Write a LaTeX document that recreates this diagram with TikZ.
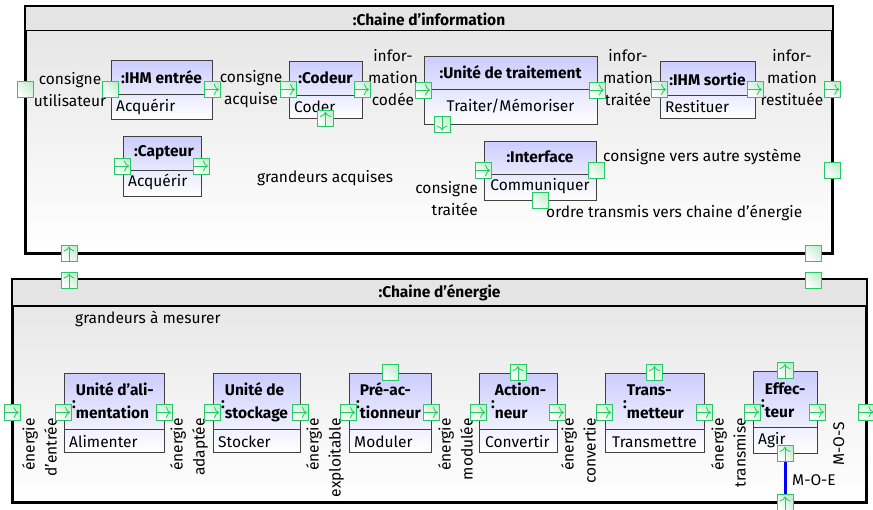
\documentclass[tikz,border=0pt]{standalone}
\usepackage{fontspec}
\setmainfont{Fira Sans}
\usepackage{tikz}
\usetikzlibrary{arrows.meta}
\definecolor{portgreen}{RGB}{40,200,100}
\definecolor{portfill}{RGB}{196,238,208}
\definecolor{partfill}{RGB}{204,204,255}
\definecolor{framegray}{RGB}{228,228,228}
\tikzstyle{frame} = [rectangle, inner sep=0pt, draw=black, line width=1.8pt, top color=framegray, bottom color=white]
\tikzstyle{part} = [rectangle, inner sep=0pt, draw=black!75, line width=0.8pt, top color=partfill, bottom color=white]
\tikzstyle{partname} = [inner sep=0pt, font=\fontsize{15.5}{23}\selectfont\bfseries]
\tikzstyle{lbl} = [inner sep=0pt, align=center]
\tikzstyle{vlbl} = [inner sep=0pt, align=right, rotate=90, anchor=north east]
\tikzstyle{port} = [rectangle, minimum size=16pt, inner sep=0pt, draw=portgreen, line width=1pt, left color=white, right color=portfill, shading angle=135]
\tikzstyle{flowright} = [port, path picture={\draw[portgreen, line width=0.8pt, -{To[length=5pt,width=11pt]}] (path picture bounding box.west) -- ([xshift=-1.5pt]path picture bounding box.east);}]
\tikzstyle{flowup} = [port, path picture={\draw[portgreen, line width=0.8pt, -{To[length=5pt,width=11pt]}] (path picture bounding box.south) -- ([yshift=-1.5pt]path picture bounding box.north);}]
\tikzstyle{flowdown} = [port, path picture={\draw[portgreen, line width=0.8pt, -{To[length=5pt,width=11pt]}] (path picture bounding box.north) -- ([yshift=1.5pt]path picture bounding box.south);}]
\tikzstyle{mocline} = [line width=3pt, draw=blue]

\begin{document}
\begin{tikzpicture}[x=1pt, y=-1pt, font=\fontsize{15.5}{22}\selectfont]
		\useasboundingbox (0,0) rectangle (873,509);

		% Frames of both chains
		\node (info) [frame, minimum width=806pt, minimum height=246pt] at (429,130) {};
		\fill [framegray] (26,7) rectangle (832,30.5);
		\draw [line width=1.5pt] (26,30.5) -- (832,30.5);
		\draw [line width=1.8pt] (info.north west) rectangle (info.south east);
		\node [partname] at (429,19) {:Chaine d’information};

		\node (energy) [frame, minimum width=853pt, minimum height=222pt] at (439.5,391) {};
		\fill [framegray] (13,280) rectangle (866,306);
		\draw [line width=1.5pt] (13,306) -- (866,306);
		\draw [line width=1.8pt] (energy.north west) rectangle (energy.south east);
		\node [partname] at (439.5,293) {:Chaine d’énergie};

		% Parts of the information chain
		\node (ihm_in) [part, minimum width=101pt, minimum height=59pt] at (161.5,89.5) {};
		\draw [black!75] (111,94) -- (212,94);
		\node [partname] at (161.5,77) {:IHM entrée};
		\node [inner sep=0pt, anchor=west] at (116,107) {Acquérir};

		\node (codeur) [part, minimum width=73pt, minimum height=57pt] at (325.5,89.5) {};
		\draw [black!75] (289,95) -- (362,95);
		\node [partname] at (325.5,78) {:Codeur};
		\node [inner sep=0pt, anchor=west] at (294,107) {Coder};

		\node (udt) [part, minimum width=173pt, minimum height=68pt] at (510.5,90) {};
		\draw [black!75] (424,89) -- (597,89);
		\node [partname] at (510.5,72) {:Unité de traitement};
		\node [inner sep=0pt] at (510.5,106) {Traiter/Mémoriser};

		\node (ihm_out) [part, minimum width=95pt, minimum height=57pt] at (707.5,89.5) {};
		\draw [black!75] (660,95) -- (755,95);
		\node [partname] at (707.5,79) {:IHM sortie};
		\node [inner sep=0pt, anchor=west] at (665,107) {Restituer};

		\node (capteur) [part, minimum width=78pt, minimum height=60pt] at (162,166) {};
		\draw [black!75] (123,170) -- (201,170);
		\node [partname] at (164,153) {:Capteur};
		\node [inner sep=0pt, anchor=west] at (128,182) {Acquérir};

		\node (interface) [part, minimum width=112pt, minimum height=59pt] at (540,170.5) {};
		\draw [black!75] (484,174) -- (596,174);
		\node [partname] at (540,157) {:Interface};
		\node [inner sep=0pt] at (540,186) {Communiquer};

		% Parts of the energy chain
		\node (alim) [part, minimum width=100pt, minimum height=79pt] at (114,412.5) {};
		\node (stock) [part, minimum width=87pt, minimum height=79pt] at (256.5,412.5) {};
		\node (preact) [part, minimum width=82pt, minimum height=79pt] at (390,412.5) {};
		\node (action) [part, minimum width=78pt, minimum height=79pt] at (518,412.5) {};
		\node (trans) [part, minimum width=99pt, minimum height=79pt] at (654.5,412.5) {};
		\node (effect) [part, minimum width=64pt, minimum height=82pt] at (785,412) {};
		\draw [black!75] (64,429) -- (164,429);
		\draw [black!75] (213,429) -- (300,429);
		\draw [black!75] (349,429) -- (431,429);
		\draw [black!75] (479,429) -- (557,429);
		\draw [black!75] (605,429) -- (704,429);
		\draw [black!75] (753,427) -- (817,427);

		\node [partname, anchor=west] at (72,402) {\raisebox{-3pt}{:}\begin{tabular}{@{}l@{}}Unité d’ali-\\mentation\end{tabular}};
		\node [partname, anchor=west] at (221,402) {\raisebox{-3pt}{:}\begin{tabular}{@{}l@{}}Unité de\\stockage\end{tabular}};
		\node [partname, anchor=west] at (356,402) {\raisebox{-3pt}{:}\begin{tabular}{@{}l@{}}Pré-ac-\\tionneur\end{tabular}};
		\node [partname, anchor=west] at (491,402) {\raisebox{-3pt}{:}\begin{tabular}{@{}l@{}}Action-\\neur\end{tabular}};
		\node [partname, anchor=west] at (623,402) {\raisebox{-3pt}{:}\begin{tabular}{@{}l@{}}Trans-\\metteur\end{tabular}};
		\node [partname, anchor=west] at (761,401) {\raisebox{-3pt}{:}\begin{tabular}{@{}l@{}}Effec-\\teur\end{tabular}};

		\node [inner sep=0pt, anchor=west] at (69,442) {Alimenter};
		\node [inner sep=0pt, anchor=west] at (218,442) {Stocker};
		\node [inner sep=0pt, anchor=west] at (354,442) {Moduler};
		\node [inner sep=0pt, anchor=west] at (485,442) {Convertir};
		\node [inner sep=0pt, anchor=west] at (612,442) {Transmettre};
		\node [inner sep=0pt, anchor=west] at (758,440) {Agir};

		% Flow labels
		\node [lbl] at (70,89.5) {consigne\\utilisateur};
		\node [lbl] at (251,89.5) {consigne\\acquise};
		\node [lbl] at (393,78) {infor-\\mation\\codée};
		\node [lbl] at (628,78) {infor-\\mation\\traitée};
		\node [lbl] at (792,78) {infor-\\mation\\restituée};
		\node [lbl] at (325,178) {grandeurs acquises};
		\node [lbl, align=right, anchor=east] at (478,198.5) {consigne\\traitée};
		\node [lbl, anchor=west] at (603,157) {consigne vers autre système};
		\node [lbl, anchor=west] at (546,213) {ordre transmis vers chaine d’énergie};
		\node [lbl, anchor=west] at (75,319) {grandeurs à mesurer};
		\node [lbl, anchor=west] at (792,480) {M-O-E};

		\node [vlbl] at (22,418) {énergie\\d’entrée};
		\node [vlbl] at (170,418) {énergie\\adaptée};
		\node [vlbl] at (306,418) {énergie\\exploitable};
		\node [vlbl] at (438,418) {énergie\\modulée};
		\node [vlbl] at (561,418) {énergie\\convertie};
		\node [vlbl] at (711,418) {énergie\\transmise};
		\node [vlbl] at (833,422) {M-O-S};

		% Ports of the information chain
		\node (info_l) [port] at (info.west |- ihm_in.west) {};
		\node (ihm_in_l) [port] at (ihm_in.west) {};
		\node (ihm_in_r) [flowright] at (ihm_in.east) {};
		\node (codeur_l) [flowright] at (codeur.west) {};
		\node (codeur_r) [flowright] at (codeur.east) {};
		\node (codeur_b) [flowup] at (codeur.south) {};
		\node (udt_l) [flowright] at (udt.west) {};
		\node (udt_r) [flowright] at (udt.east) {};
		\node (udt_b) [flowdown] at (442,124) {};
		\node (ihm_out_l) [flowright] at (ihm_out.west) {};
		\node (ihm_out_r) [flowright] at (ihm_out.east) {};
		\node (info_r) [flowright] at (info.east |- ihm_out.east) {};
		\node (capteur_l) [flowright] at (capteur.west) {};
		\node (capteur_r) [flowright] at (capteur.east) {};
		\node (interface_l) [flowright] at (interface.west) {};
		\node (interface_r) [port] at (interface.east) {};
		\node (interface_b) [port] at (interface.south) {};
		\node (info_r2) [port] at (info.east |- interface.east) {};
		\node (info_b1) [flowup] at (69,253) {};
		\node (info_b2) [port] at (813,253) {};

		% Ports of the energy chain
		\node (energy_t1) [flowup] at (69,280) {};
		\node (energy_t2) [port] at (813,280) {};
		\node (energy_l) [flowright] at (energy.west |- alim.west) {};
		\node (alim_l) [flowright] at (alim.west) {};
		\node (alim_r) [flowright] at (alim.east) {};
		\node (stock_l) [flowright] at (stock.west) {};
		\node (stock_r) [flowright] at (stock.east) {};
		\node (preact_l) [flowright] at (preact.west) {};
		\node (preact_r) [flowright] at (preact.east) {};
		\node (preact_t) [port] at (preact.north) {};
		\node (action_l) [flowright] at (action.west) {};
		\node (action_r) [flowright] at (action.east) {};
		\node (action_t) [flowup] at (action.north) {};
		\node (trans_l) [flowright] at (trans.west) {};
		\node (trans_r) [flowright] at (trans.east) {};
		\node (trans_t) [flowup] at (trans.north) {};
		\node (effect_l) [flowright] at (effect.west) {};
		\node (effect_r) [flowright] at (effect.east) {};
		\node (effect_t) [flowup] at (effect.north) {};
		\node (effect_b) [flowup] at (effect.south) {};
		\node (energy_r) [flowright] at (energy.east |- effect.east) {};
		\node (energy_b) [flowup] at (energy.south -| effect.south) {};

		% Mechanical link
		\draw [mocline] (effect_b) -- (energy_b);

	\end{tikzpicture}
\end{document}
